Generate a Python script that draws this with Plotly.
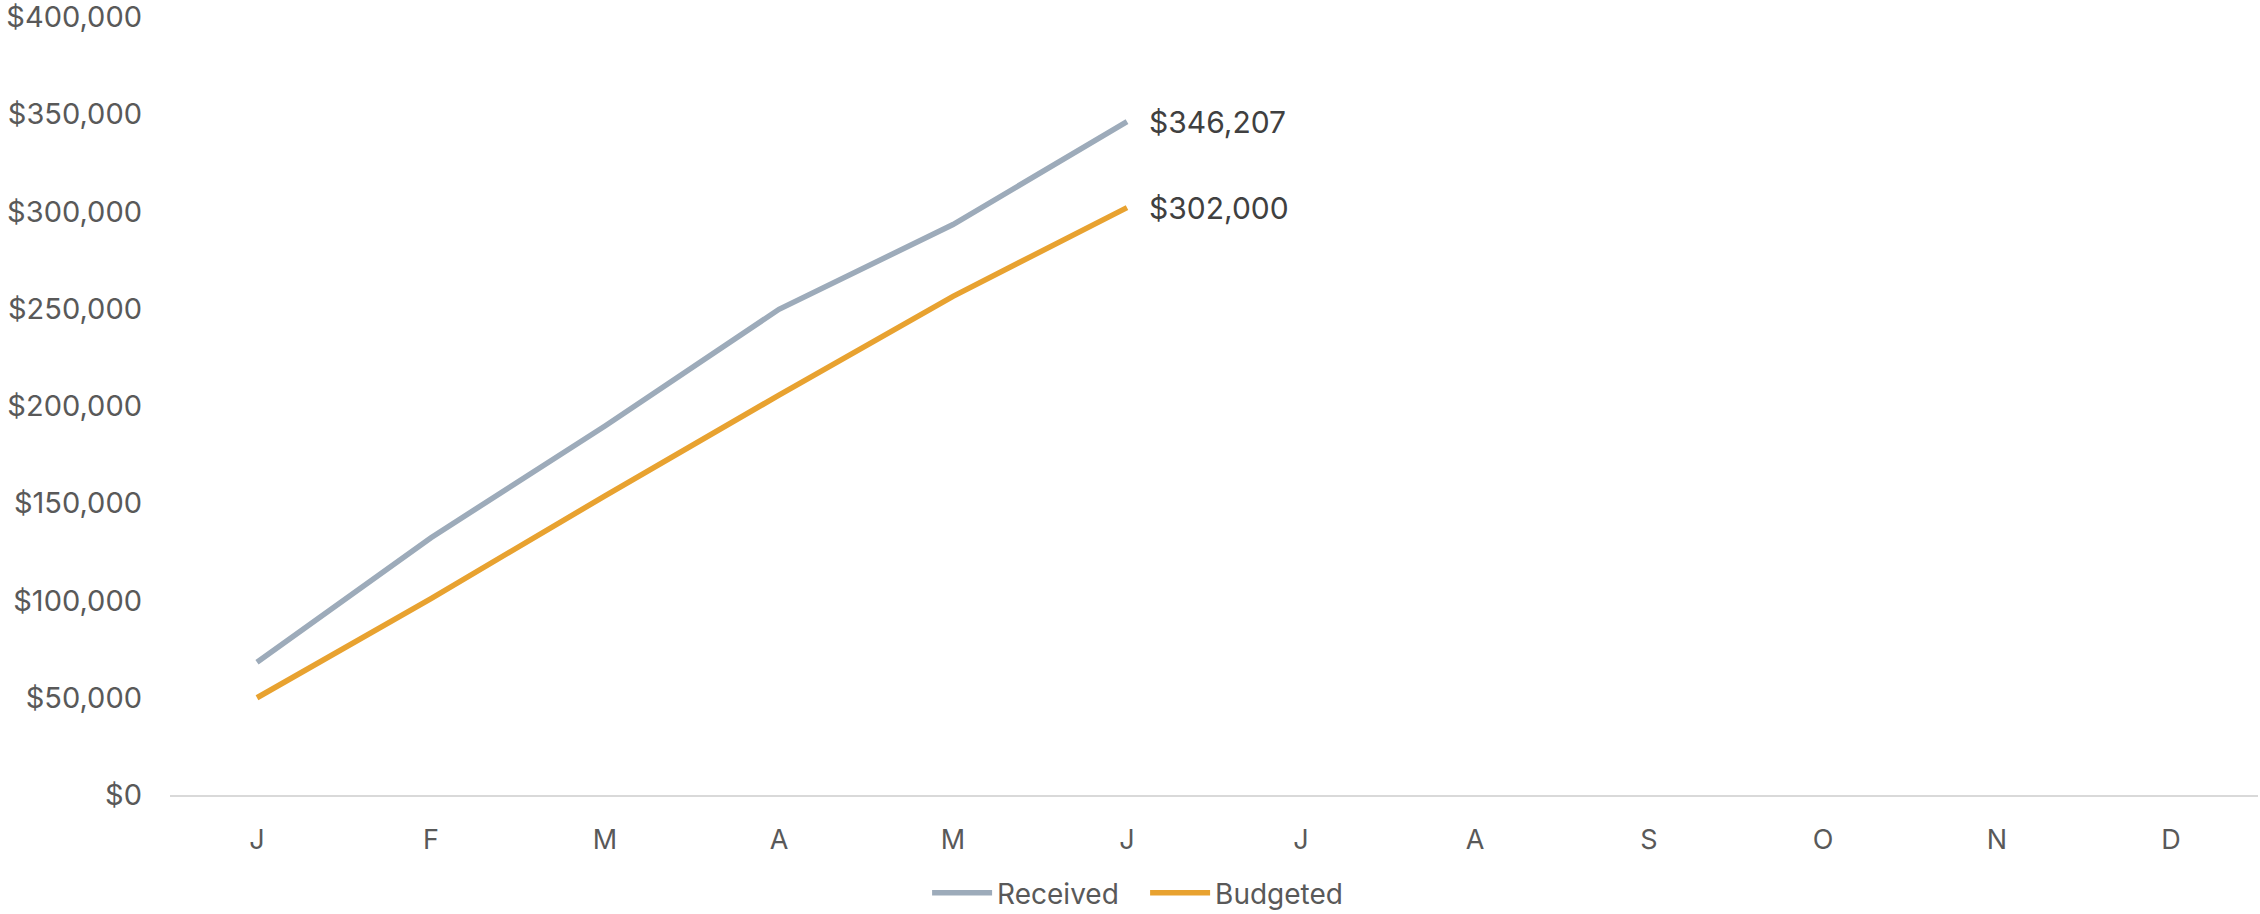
import plotly.graph_objects as go

# Month initials shown along the x axis
months = ["J", "F", "M", "A", "M", "J", "J", "A", "S", "O", "N", "D"]

# Cumulative amounts, January through June
received = [68200, 132300, 189700, 249700, 293300, 346207]
budgeted = [50000, 101000, 153800, 205600, 256400, 302000]

y_ticks = [0, 50000, 100000, 150000, 200000, 250000, 300000, 350000, 400000]

FONT = "Inter"
AXIS_GREY = "#595959"
RECEIVED_COLOR = "#9dabba"
BUDGETED_COLOR = "#e8a230"

x_idx = list(range(len(months)))

fig = go.Figure()
fig.add_trace(go.Scatter(
    x=x_idx[:len(received)], y=received, name="Received", mode="lines",
    line=dict(color=RECEIVED_COLOR, width=5.5),
))
fig.add_trace(go.Scatter(
    x=x_idx[:len(budgeted)], y=budgeted, name="Budgeted", mode="lines",
    line=dict(color=BUDGETED_COLOR, width=5.5),
))

# Value labels at the end of each series
for series in (received, budgeted):
    fig.add_annotation(
        x=len(series) - 1, y=series[-1], text=f"${series[-1]:,}",
        xanchor="left", yanchor="middle", xshift=20, showarrow=False,
        font=dict(family=FONT, size=30, color="#404040"),
    )

fig.update_layout(
    width=2260, height=914,
    margin=dict(l=170, r=2, t=17, b=119, autoexpand=False),
    paper_bgcolor="white", plot_bgcolor="white",
    font=dict(family=FONT, color=AXIS_GREY),
    showlegend=True,
    legend=dict(
        orientation="h", x=0.467, xanchor="center", y=-0.126, yanchor="middle",
        font=dict(family=FONT, size=28, color=AXIS_GREY),
        itemwidth=60, traceorder="normal", tracegroupgap=0,
        entrywidth=143,
    ),
)
fig.update_xaxes(
    range=[-0.5, 11.5], tickmode="array", tickvals=x_idx, ticktext=months,
    showgrid=False, zeroline=False, showline=True, linecolor="#d9d9d9",
    linewidth=2, ticks="", ticklabelstandoff=20,
    tickfont=dict(family=FONT, size=27, color=AXIS_GREY),
)
fig.update_yaxes(
    range=[0, 400000], tickmode="array", tickvals=y_ticks,
    ticktext=[f"${v:,}" for v in y_ticks],
    showgrid=False, zeroline=False, showline=False, ticks="",
    ticklabelstandoff=27, ticklabeloverflow="allow",
    tickfont=dict(family=FONT, size=29, color=AXIS_GREY),
)

fig.write_html("out.html")
